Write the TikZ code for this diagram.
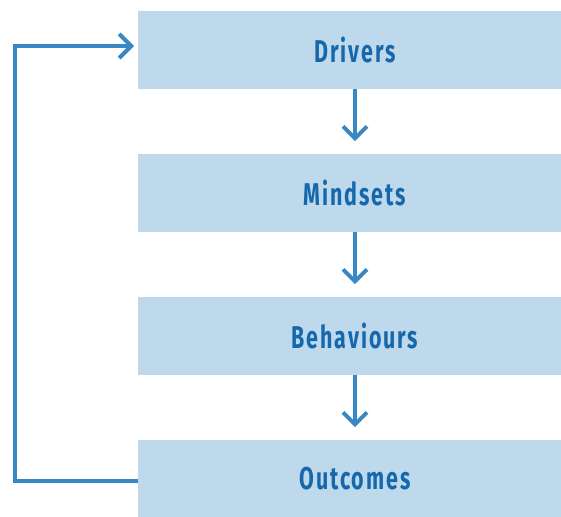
\documentclass[tikz,border=0pt]{standalone}
\usepackage{fontspec}
\setmainfont{Fira Sans}
\newfontfamily\labelfont[FakeStretch=0.68,LetterSpace=6]{Fira Sans Bold}
\usetikzlibrary{arrows.meta}
\definecolor{boxfill}{RGB}{190,217,236}
\definecolor{flowline}{RGB}{56,136,198}
\definecolor{labelblue}{RGB}{22,104,172}
\begin{document}
\begin{tikzpicture}[x=1pt,y=-1pt,
  stage/.style={fill=boxfill, minimum width=434pt, minimum height=78pt,
    inner sep=0pt, text=labelblue, font=\labelfont\fontsize{31.5}{31.5}\selectfont},
  flow/.style={draw=flowline, line width=4pt, miter limit=10,
    -{Straight Barb[length=12pt,width=24pt,line width=4pt]}}]
\useasboundingbox (0,0) rectangle (561,516);
\node[stage] (drivers) at (355,50) {Drivers};
\node[stage] (mindsets) at (355,193) {Mindsets};
\node[stage] (behaviours) at (355,336) {Behaviours};
\node[stage] (outcomes) at (355,479) {Outcomes};
\draw[flow] (drivers.south) -- ++(0,52);
\draw[flow] (mindsets.south) -- ++(0,52);
\draw[flow] (behaviours.south) -- ++(0,52);
\coordinate (loopbot) at (15,481);
\coordinate (looptop) at (15,46);
\draw[flow] (outcomes.west |- loopbot) -- (loopbot) -- (looptop) -- (134,46);
\end{tikzpicture}
\end{document}
